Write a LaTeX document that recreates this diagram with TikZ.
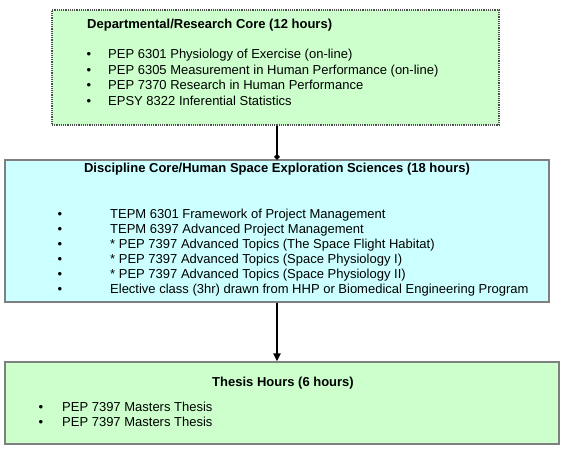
\documentclass[tikz,border=0pt]{standalone}
\usepackage{fontspec}
\setmainfont{Liberation Sans}
\usetikzlibrary{arrows.meta}
\usetikzlibrary{positioning}

\definecolor{palegreen}{HTML}{CCFFCC}
\definecolor{palecyan}{HTML}{CCFFFF}
\definecolor{edgegray}{HTML}{7F7F7F}

\begin{document}
\begin{tikzpicture}
  [x=1pt,y=-1pt,
  every node/.style={font=\fontsize{13}{15}\selectfont},
  greenbox/.style={rectangle,fill=palegreen,draw=edgegray,line width=1.2pt,inner sep=0pt},
  cyanbox/.style={rectangle,fill=palecyan,draw=edgegray,line width=1.2pt,inner sep=0pt},
  dotbox/.style={rectangle,fill=palegreen,draw=black!70,densely dotted,line width=1.2pt,inner sep=0pt},
  head/.style={font=\fontsize{13}{15}\selectfont\bfseries,inner sep=0pt},
  bul/.style={anchor=base,inner sep=0pt},
  item/.style={anchor=base west,inner sep=0pt},
  link/.style={line width=2pt,black}]
  \useasboundingbox (0,0) rectangle (564,449);

  % the three boxes
  \node[dotbox,minimum width=447pt,minimum height=115pt] (core) at (275.5,67.5) {};
  \node[cyanbox,minimum width=544pt,minimum height=142pt] (disc) at (277,231) {};
  \node[greenbox,minimum width=554pt,minimum height=82pt] (thesis) at (282,403) {};

  % departmental core
  \node[head,anchor=base west] (corehead) at (87,28.5) {Departmental/Research Core (12 hours)};
  \node[bul] (b11) at (89,59) {\textbullet};
  \node[bul] (b12) at (89,74.5) {\textbullet};
  \node[bul] (b13) at (89,90) {\textbullet};
  \node[bul] (b14) at (89,105.5) {\textbullet};
  \node[item] (c11) at (108,59) {PEP 6301 Physiology of Exercise (on-line)};
  \node[item] (c12) at (108,74.5) {PEP 6305 Measurement in Human Performance (on-line)};
  \node[item] (c13) at (108,90) {PEP 7370 Research in Human Performance};
  \node[item] (c14) at (108,105.5) {EPSY 8322 Inferential Statistics};

  % discipline core
  \node[head,anchor=base] (dischead) at (277,172) {Discipline Core/Human Space Exploration Sciences (18 hours)};
  \node[bul] (b21) at (60,218.5) {\textbullet};
  \node[bul] (b22) at (60,233.5) {\textbullet};
  \node[bul] (b23) at (60,248.5) {\textbullet};
  \node[bul] (b24) at (60,263.5) {\textbullet};
  \node[bul] (b25) at (60,278.5) {\textbullet};
  \node[bul] (b26) at (60,293.5) {\textbullet};
  \node[item] (c21) at (110,218.5) {TEPM 6301 Framework of Project Management};
  \node[item] (c22) at (110,233.5) {TEPM 6397 Advanced Project Management};
  \node[item] (c23) at (110,248.5) {* PEP 7397 Advanced Topics (The Space Flight Habitat)};
  \node[item] (c24) at (110,263.5) {* PEP 7397 Advanced Topics (Space Physiology I)};
  \node[item] (c25) at (110,278.5) {* PEP 7397 Advanced Topics (Space Physiology II)};
  \node[item] (c26) at (110,293.5) {Elective class (3hr) drawn from HHP or Biomedical Engineering Program};

  % thesis
  \node[head,anchor=base] (thesishead) at (283,386) {Thesis Hours (6 hours)};
  \node[bul] (b31) at (41,411) {\textbullet};
  \node[bul] (b32) at (41,426) {\textbullet};
  \node[item] (c31) at (62,411) {PEP 7397 Masters Thesis};
  \node[item] (c32) at (62,426) {PEP 7397 Masters Thesis};

  % connectors
  \draw[link,-{Circle[length=5pt]}] (core.south -| disc.north) -- (disc.north);
  \draw[link,-{Triangle[length=8pt,width=7pt]}] (disc.south) -- (disc.south |- thesis.north);
\end{tikzpicture}
\end{document}
